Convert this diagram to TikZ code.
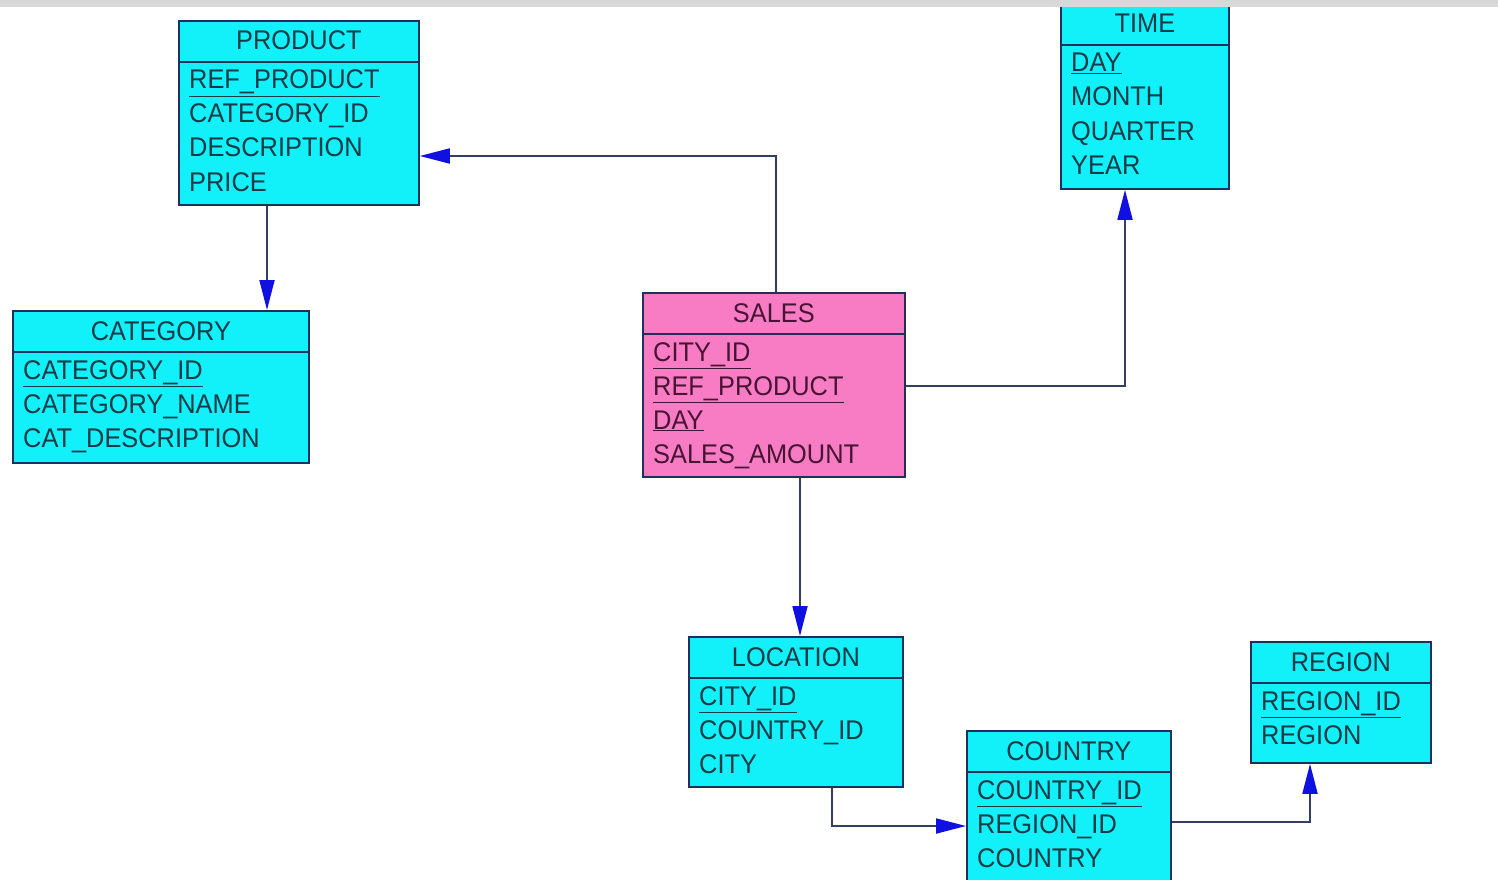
\documentclass[tikz,border=0pt]{standalone}
\usepackage{fontspec}
\setmainfont{Liberation Sans}[FakeStretch=0.94]
\usepackage{tikz}
\usetikzlibrary{arrows.meta, positioning, calc}
\definecolor{tablecyan}{RGB}{18,240,250}
\definecolor{salespink}{RGB}{248,124,196}
\definecolor{boxline}{RGB}{32,48,92}
\definecolor{cyantext}{RGB}{22,58,70}
\definecolor{pinktext}{RGB}{72,20,52}
\definecolor{linkgray}{RGB}{52,62,96}
\definecolor{arrowblue}{RGB}{16,16,224}
\definecolor{topband}{RGB}{216,216,216}
\newcommand{\pk}[1]{\underline{#1}}
% table: name, position, width, height, fill, text colour, title, fields
\newcommand{\erentity}[8]{%
  \node[entity, fill=#5, minimum width=#3pt, minimum height=#4pt] (#1) at (#2) {};
  \draw[entityrule] ([yshift=-42pt]#1.north west) -- ([yshift=-42pt]#1.north east);
  \node[entitytitle, text=#6] (#1-title) at ([yshift=-30pt]#1.north) {#7};
  \foreach \field [count=\i] in {#8}
    \node[attr, text=#6] (#1-\i) at ([xshift=11pt, yshift={-69pt-34pt*(\i-1)}]#1.north west) {\field};
}
\tikzset{
  entity/.style={draw=boxline, line width=1.8pt, inner sep=0pt, anchor=north west},
  entityrule/.style={draw=boxline, line width=1.4pt},
  entitytitle/.style={anchor=base, inner sep=0pt},
  attr/.style={anchor=base west, inner sep=0pt},
  fk/.style={draw=linkgray, line width=1.8pt, -{Triangle[length=30pt, width=15pt, color=arrowblue]}}
}

\begin{document}
\begin{tikzpicture}[x=1pt, y=1pt, font=\fontsize{27}{34}\selectfont]
  \useasboundingbox (0,0) rectangle (1498,-880);
  \fill[white] (0,0) rectangle (1498,-880);

  % dimension tables
  \erentity{product}{178,-20}{240}{184}{tablecyan}{cyantext}{PRODUCT}
    {\pk{REF\_PRODUCT}, CATEGORY\_ID, DESCRIPTION, PRICE}
  \erentity{category}{12,-310}{296}{152}{tablecyan}{cyantext}{CATEGORY}
    {\pk{CATEGORY\_ID}, CATEGORY\_NAME, CAT\_DESCRIPTION}
  \erentity{time}{1060,-3}{168}{185}{tablecyan}{cyantext}{TIME}
    {\pk{DAY}, MONTH, QUARTER, YEAR}
  \erentity{location}{688,-636}{214}{150}{tablecyan}{cyantext}{LOCATION}
    {\pk{CITY\_ID}, COUNTRY\_ID, CITY}
  \erentity{country}{966,-730}{204}{154}{tablecyan}{cyantext}{COUNTRY}
    {\pk{COUNTRY\_ID}, REGION\_ID, COUNTRY}
  \erentity{region}{1250,-641}{180}{121}{tablecyan}{cyantext}{REGION}
    {\pk{REGION\_ID}, REGION}

  % fact table
  \erentity{sales}{642,-292}{262}{184}{salespink}{pinktext}{SALES}
    {\pk{CITY\_ID}, \pk{REF\_PRODUCT}, \pk{DAY}, SALES\_AMOUNT}

  % links
  \draw[fk] ([xshift=134pt]sales.north west) |- ([yshift=-136pt]product.north east);
  \draw[fk] ([xshift=89pt]product.south west) -- ([xshift=255pt]category.north west);
  \draw[fk] ([yshift=-94pt]sales.north east) -| ([xshift=65pt]time.south west);
  \draw[fk] ([xshift=158pt]sales.south west) -- ([xshift=112pt]location.north west);
  \draw[fk] ([xshift=144pt]location.south west) |- ([yshift=-96pt]country.north west);
  \draw[fk] ([yshift=-92pt]country.north east) -| ([xshift=60pt]region.south west);

  % grey strip at the top
  \fill[topband] (0,0) rectangle (1498,-7);
\end{tikzpicture}
\end{document}
